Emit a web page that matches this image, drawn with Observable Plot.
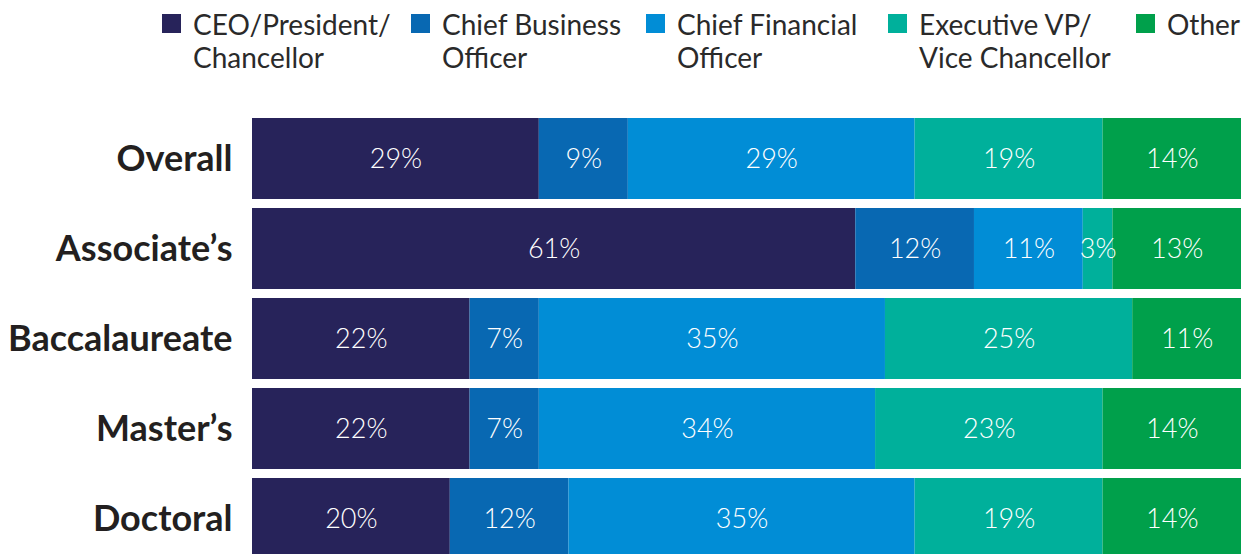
<!DOCTYPE html>
<html>
<head>
<meta charset="utf-8">
<script src="https://cdn.jsdelivr.net/npm/d3@7"></script>
<script src="https://cdn.jsdelivr.net/npm/@observablehq/plot@0.6"></script>
<style>
  html, body { margin: 0; padding: 0; background: #fff; overflow: hidden; width: 1241px; height: 554px; }
  body { font-family: Lato, "Open Sans", sans-serif; color: #231f20; }
  #legend { position: relative; height: 110px; width: 1241px; }
  .item { position: absolute; top: 0; }
  .sw { position: absolute; top: 14px; left: 0; width: 19px; height: 19px; }
  .lab { position: absolute; top: 8px; left: 31px; font-size: 28px; line-height: 33px; white-space: nowrap; color: #2a2a2a; }
  #chart svg { display: block; }
  #chart g[aria-label="y-axis tick label"] text { font-size: 36px; font-weight: 700; fill: #231f20; }
</style>
</head>
<body>
<div id="legend"></div>
<div id="chart"></div>
<script>
const categories = ["Overall", "Associate’s", "Baccalaureate", "Master’s", "Doctoral"];
const roles = ["CEO/President/ Chancellor", "Chief Business Officer", "Chief Financial Officer", "Executive VP/ Vice Chancellor", "Other"];
const legendLines = [["CEO/President/", "Chancellor"], ["Chief Business", "Officer"], ["Chief Financial", "Officer"], ["Executive VP/", "Vice Chancellor"], ["Other"]];
const colors = ["#27235a", "#0868b2", "#018dd6", "#00b09b", "#00a04b"];

const ceo       = [29, 61, 22, 22, 20];
const business  = [9, 12, 7, 7, 12];
const financial = [29, 11, 35, 34, 35];
const execVP    = [19, 3, 25, 23, 19];
const other     = [14, 13, 11, 14, 14];
const series = [ceo, business, financial, execVP, other];

const legendX = [162, 411, 646, 888, 1136];

const data = categories.flatMap((c, i) =>
  roles.map((r, j) => ({category: c, role: r, value: series[j][i]}))
);

// Legend
const legend = document.getElementById("legend");
roles.forEach((r, j) => {
  const item = document.createElement("div");
  item.className = "item";
  item.style.left = legendX[j] + "px";
  const sw = document.createElement("div");
  sw.className = "sw";
  sw.style.background = colors[j];
  const lab = document.createElement("div");
  lab.className = "lab";
  lab.innerHTML = legendLines[j].join("<br>");
  item.appendChild(sw);
  item.appendChild(lab);
  legend.appendChild(item);
});

const chart = Plot.plot({
  width: 1241,
  height: 455,
  marginLeft: 252,
  marginRight: 0,
  marginTop: 2,
  marginBottom: 0,
  style: {fontFamily: "Lato, 'Open Sans', sans-serif", background: "white"},
  x: {domain: [0, 100], axis: null},
  y: {domain: categories, paddingInner: 0.105, paddingOuter: 0.0525, label: null},
  color: {domain: roles, range: colors},
  marks: [
    Plot.barX(data, {x: "value", y: "category", fill: "role"}),
    Plot.text(data, Plot.stackX({
      x: "value", y: "category", z: "role",
      text: d => d.value + "%",
      fill: "white", fontSize: 27, fontWeight: 300
    })),
    Plot.axisY({tickSize: 0, tickPadding: 20, label: null, fontSize: 36, fontWeight: 700})
  ]
});
document.getElementById("chart").appendChild(chart);
</script>
</body>
</html>
